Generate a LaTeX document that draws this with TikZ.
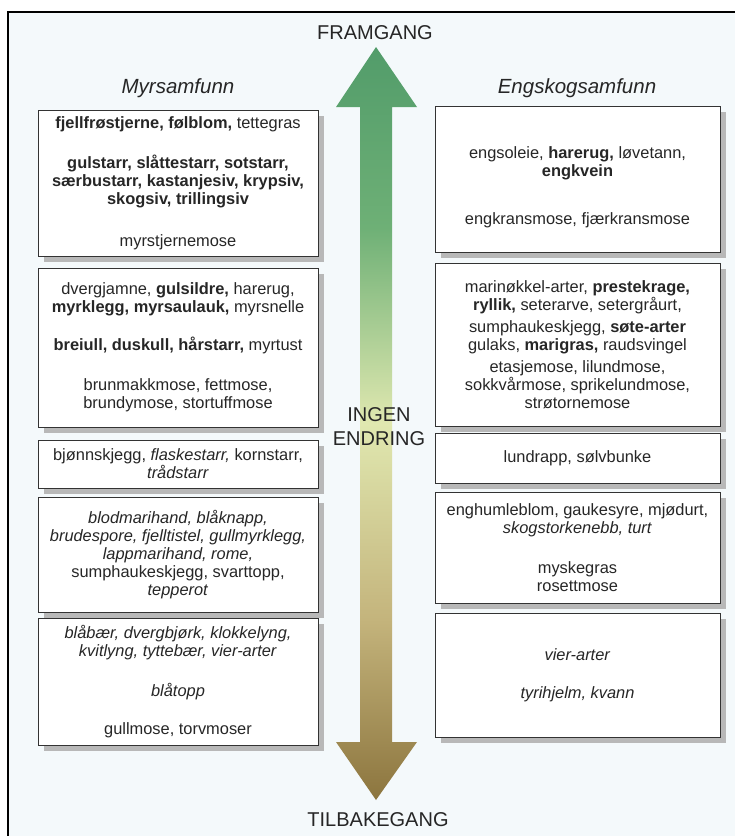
\documentclass[tikz,border=0pt]{standalone}
\usepackage{fontspec}
\setmainfont{Liberation Sans}
\usetikzlibrary{shadows}

\definecolor{paper}{RGB}{244,249,251}
\definecolor{upgreen}{RGB}{82,156,106}
\definecolor{lightgreen}{RGB}{110,176,118}
\definecolor{midpale}{RGB}{224,232,176}
\definecolor{midtan}{RGB}{196,180,124}
\definecolor{downbrown}{RGB}{140,117,62}
\pgfdeclareverticalshading{changeshade}{100bp}{color(0bp)=(downbrown); color(25bp)=(downbrown);
  color(37bp)=(midtan); color(50bp)=(midpale); color(63bp)=(lightgreen);
  color(75bp)=(upgreen); color(100bp)=(upgreen)}

\tikzset{
  artbox/.style={draw=black!80,line width=.9pt,fill=white,align=center,inner sep=0pt,
    text=black!85,font={\fontsize{16.4}{18}\selectfont},
    drop shadow={shadow xshift=6pt,shadow yshift=-6pt,fill=black!28,opacity=1}},
  leftbox/.style={artbox,minimum width=280pt},
  rightbox/.style={artbox,minimum width=285pt},
  heading/.style={font={\fontsize{20}{24}\selectfont},text=black!85,align=center},
  colhead/.style={font={\fontsize{20.5}{22}\selectfont\itshape},text=black!85}
}

\begin{document}
\begin{tikzpicture}[x=1pt,y=-1pt]
\useasboundingbox (0,0) rectangle (735,836);
\fill[paper] (8,12) rectangle (735,836);
\draw[black,line width=2pt] (8,836)--(8,12)--(735,12);

% the big two-way arrow
\shade[shading=changeshade]
  (376,47)--(417,107)--(392,107)--(392,742)--(417,742)--(376,800)
  --(336,742)--(360,742)--(360,107)--(336,107)--cycle;

\node[heading] (up) at (375,33) {FRAMGANG};
\node[heading] (still) at (379,427) {INGEN\\ENDRING};
\node[heading] (down) at (378,820) {TILBAKEGANG};

\node[colhead] (myr) at (178,88) {Myrsamfunn};
\node[colhead] (eng) at (577,88) {Engskogsamfunn};

% Myrsamfunn
\node[leftbox,minimum height=146pt] (m1) at (178,183) {
  \textbf{fjellfrøstjerne, følblom,} tettegras\\[22pt]
  \textbf{gulstarr, slåttestarr, sotstarr,}\\
  \textbf{særbustarr, kastanjesiv, krypsiv,}\\
  \textbf{skogsiv, trillingsiv}\\[24pt]
  myrstjernemose};
\node[leftbox,minimum height=159pt] (m2) at (178,347.5) {
  dvergjamne, \textbf{gulsildre,} harerug,\\
  \textbf{myrklegg, myrsaulauk,} myrsnelle\\[20pt]
  \textbf{breiull, duskull, hårstarr,} myrtust\\[22pt]
  brunmakkmose, fettmose,\\
  brundymose, stortuffmose};
\node[leftbox,minimum height=48pt] (m3) at (178,464) {
  bjønnskjegg, \textit{flaskestarr,} kornstarr,\\
  \textit{trådstarr}};
\node[leftbox,minimum height=115pt] (m4) at (178,554.5) {
  \textit{blodmarihand, blåknapp,}\\
  \textit{brudespore, fjelltistel, gullmyrklegg,}\\
  \textit{lappmarihand, rome,}\\
  sumphaukeskjegg, svarttopp,\\
  \textit{tepperot}};
\node[leftbox,minimum height=127pt] (m5) at (178,681.5) {
  \textit{blåbær, dvergbjørk, klokkelyng,}\\
  \textit{kvitlyng, tyttebær, vier-arter}\\[22pt]
  \textit{blåtopp}\\[20pt]
  gullmose, torvmoser};

% Engskogsamfunn
\node[rightbox,minimum height=146pt] (e1) at (577.5,179) {
  \rule{0pt}{28pt}engsoleie, \textbf{harerug,} løvetann,\\
  \textbf{engkvein}\\[30pt]
  engkransmose, fjærkransmose};
\node[rightbox,minimum height=163pt] (e2) at (577.5,344.5) {
  marinøkkel-arter, \textbf{prestekrage,}\\
  \textbf{ryllik,} seterarve, setergråurt,\\[4pt]
  sumphaukeskjegg, \textbf{søte-arter}\\
  gulaks, \textbf{marigras,} raudsvingel\\[4pt]
  etasjemose, lilundmose,\\
  sokkvårmose, sprikelundmose,\\
  strøtornemose};
\node[rightbox,minimum height=50pt] (e3) at (577.5,458) {lundrapp, sølvbunke};
\node[rightbox,minimum height=111pt] (e4) at (577.5,547.5) {
  enghumleblom, gaukesyre, mjødurt,\\
  \textit{skogstorkenebb, turt}\\[22pt]
  myskegras\\
  rosettmose};
\node[rightbox,minimum height=124pt] (e5) at (577.5,675) {
  \textit{vier-arter}\\[20pt]
  \textit{tyrihjelm, kvann}};
\end{tikzpicture}
\end{document}
